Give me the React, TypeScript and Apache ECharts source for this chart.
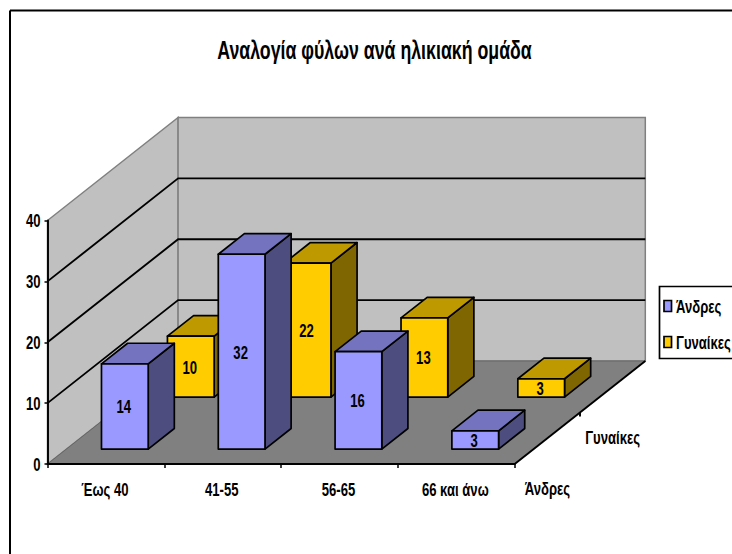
import React, { useEffect, useRef } from "react";
import * as echarts from "echarts";

const titleText = "Αναλογία φύλων ανά ηλικιακή ομάδα";
const categories = ["Έως 40", "41-55", "56-65", "66 και άνω"];
const seriesNames = ["Άνδρες", "Γυναίκες"];
const menValues = [14, 32, 16, 3];
const womenValues = [10, 22, 13, 3];
const valueTicks = [0, 10, 20, 30, 40];

const FONT = '"Liberation Sans", Arial, sans-serif';
const W = 732;
const H = 554;

// The lettering is set condensed: bold Arial metrics squeezed horizontally.
const SQUEEZE = 0.69;

// Oblique projection of the chart box: how far the back of the floor is shifted.
const DEPTH_X = 130.6;
const DEPTH_Y = -103;
const ROW_CENTER = [0.245, 0.75];
const BAR_HALF_DEPTH = 0.1;
const BAR_HALF_WIDTH = 0.2;

const PALETTE = [
  { front: "#9999FF", top: "#7373BF", side: "#4D4D80" },
  { front: "#FFCC00", top: "#BF9900", side: "#806600" },
];

const at = (api: any, i: number, v: number, dx: number, d: number) => {
  const c = api.coord([i, v]);
  const band = api.size([1, 0])[0];
  return [c[0] + dx * band + d * DEPTH_X, c[1] + d * DEPTH_Y];
};

const condensedText = (
  text: string,
  x: number,
  y: number,
  align = "center",
  fontSize = 19,
  squeeze = SQUEEZE
) => ({
  type: "text",
  x,
  y,
  scaleX: squeeze,
  silent: true,
  style: {
    text,
    x: 0,
    y: 0,
    align,
    verticalAlign: "middle",
    fontFamily: FONT,
    fontWeight: "bold",
    fontSize,
    fill: "#000",
  },
});

// Walls, floor, wall gridlines, tick labels and the names along the depth axis.
const renderBox = (_: any, api: any) => {
  const last = categories.length - 1;
  const top = valueTicks[valueTicks.length - 1];
  const p = (i: number, dx: number, v: number, d: number) => at(api, i, v, dx, d);
  const wall = { fill: "#C0C0C0", stroke: "#808080", lineWidth: 1.5 };
  const black = { stroke: "#000", lineWidth: 1.9 };
  const children: any[] = [
    {
      type: "polygon",
      shape: { points: [p(0, -0.5, 0, 0), p(0, -0.5, 0, 1), p(0, -0.5, top, 1), p(0, -0.5, top, 0)] },
      style: wall,
    },
    {
      type: "polygon",
      shape: { points: [p(0, -0.5, 0, 1), p(last, 0.5, 0, 1), p(last, 0.5, top, 1), p(0, -0.5, top, 1)] },
      style: wall,
    },
    {
      type: "polygon",
      shape: { points: [p(0, -0.5, 0, 0), p(last, 0.5, 0, 0), p(last, 0.5, 0, 1), p(0, -0.5, 0, 1)] },
      style: { fill: "#808080", stroke: "#666", lineWidth: 1 },
    },
  ];
  valueTicks.slice(1, -1).forEach((v) => {
    children.push({
      type: "polyline",
      shape: { points: [p(0, -0.5, v, 0), p(0, -0.5, v, 1), p(last, 0.5, v, 1)] },
      style: { ...black, fill: null },
    });
  });
  const front = p(last, 0.5, 0, 0);
  const back = p(last, 0.5, 0, 1);
  const mid = p(last, 0.5, 0, 0.5);
  children.push({
    type: "line",
    shape: { x1: front[0], y1: front[1], x2: back[0], y2: back[1] },
    style: black,
  });
  children.push({
    type: "line",
    shape: { x1: mid[0], y1: mid[1], x2: mid[0], y2: mid[1] + 4 },
    style: black,
  });
  valueTicks.forEach((v) => {
    const t = p(0, -0.5, v, 0);
    children.push(condensedText(String(v), t[0] - 7, t[1], "right"));
  });
  categories.forEach((name, i) => {
    const t = p(i, 0, 0, 0);
    children.push(condensedText(name, t[0] - 1, t[1] + 25.5));
  });
  seriesNames.forEach((name, row) => {
    const t = p(last, 0.5, 0, row === 0 ? 0.25 : 0.75);
    children.push(condensedText(name, t[0], t[1] + 50));
  });
  return { type: "group", children };
};

// One oblique bar: side, top and front faces plus the value on the front face.
const makeBarRenderer = (row: number) => (_: any, api: any) => {
  const i = api.value(0);
  const v = api.value(1);
  const colors = PALETTE[row];
  const d0 = ROW_CENTER[row] - BAR_HALF_DEPTH;
  const d1 = ROW_CENTER[row] + BAR_HALF_DEPTH;
  const w = BAR_HALF_WIDTH;
  const fbl = at(api, i, 0, -w, d0);
  const fbr = at(api, i, 0, w, d0);
  const ftl = at(api, i, v, -w, d0);
  const ftr = at(api, i, v, w, d0);
  const bbr = at(api, i, 0, w, d1);
  const btl = at(api, i, v, -w, d1);
  const btr = at(api, i, v, w, d1);
  const edge = { stroke: "#000", lineWidth: 1.7, lineJoin: "round" };
  return {
    type: "group",
    children: [
      { type: "polygon", shape: { points: [fbr, bbr, btr, ftr] }, style: { ...edge, fill: colors.side } },
      { type: "polygon", shape: { points: [ftl, ftr, btr, btl] }, style: { ...edge, fill: colors.top } },
      { type: "polygon", shape: { points: [fbl, fbr, ftr, ftl] }, style: { ...edge, fill: colors.front } },
      condensedText(String(v), (ftl[0] + ftr[0]) / 2 - 1, (ftl[1] + fbl[1]) / 2),
    ],
  };
};

const barData = (values: number[]) => values.map((v, i) => [i, v]);

// Legend panel: it runs past the right edge of the page, as the series names need the room.
const legendGraphic = () => ({
  type: "group",
  children: [
    {
      type: "rect",
      silent: true,
      shape: { x: 659.5, y: 286.5, width: 90, height: 72 },
      style: { fill: "#fff", stroke: "#000", lineWidth: 1.7 },
    },
    ...seriesNames.flatMap((name, row) => {
      const y = 306 + row * 36;
      return [
        {
          type: "rect",
          silent: true,
          shape: { x: 664, y: y - 5.5, width: 7.5, height: 11 },
          style: { fill: PALETTE[row].front, stroke: "#000", lineWidth: 1.7 },
        },
        condensedText(name, 676, y, "left"),
      ];
    }),
  ],
});

export default function App() {
  const ref = useRef<HTMLDivElement>(null);

  useEffect(() => {
    const chart = echarts.init(ref.current!, undefined, { renderer: "svg" });
    chart.setOption({
      animation: false,
      backgroundColor: "#fff",
      grid: { left: 47.5, top: 220.5, width: 467.2, height: 243.5, containLabel: false },
      xAxis: {
        type: "category",
        data: categories,
        axisLine: { show: true, lineStyle: { color: "#000", width: 1.9 } },
        axisTick: { show: true, length: 4, lineStyle: { color: "#000", width: 1.5 } },
        axisLabel: { show: false },
        splitLine: { show: false },
      },
      yAxis: {
        type: "value",
        min: 0,
        max: 40,
        interval: 10,
        axisLine: { show: true, lineStyle: { color: "#000", width: 1.9 } },
        axisTick: { show: true, length: 3, lineStyle: { color: "#000", width: 1.5 } },
        axisLabel: { show: false },
        splitLine: { show: false },
      },
      graphic: [
        { type: "line", silent: true, shape: { x1: 10, y1: 10.5, x2: W, y2: 10.5 }, style: { stroke: "#000", lineWidth: 2 } },
        { type: "line", silent: true, shape: { x1: 10, y1: 10.5, x2: 10, y2: H }, style: { stroke: "#000", lineWidth: 2 } },
        condensedText(titleText, 374.5, 50.5, "center", 25, 0.71),
        legendGraphic(),
      ],
      series: [
        {
          type: "custom",
          name: "box",
          z: -1,
          silent: true,
          clip: false,
          renderItem: renderBox,
          data: [[0, 0]],
          encode: { x: 0, y: 1 },
        },
        {
          type: "custom",
          name: seriesNames[1],
          z: 3,
          clip: false,
          renderItem: makeBarRenderer(1),
          data: barData(womenValues),
          encode: { x: 0, y: 1 },
        },
        {
          type: "custom",
          name: seriesNames[0],
          z: 4,
          clip: false,
          renderItem: makeBarRenderer(0),
          data: barData(menValues),
          encode: { x: 0, y: 1 },
        },
      ],
    });
    return () => chart.dispose();
  }, []);

  return (
    <div
      ref={ref}
      style={{ position: "fixed", left: 0, top: 0, width: W, height: H, overflow: "hidden" }}
    />
  );
}
